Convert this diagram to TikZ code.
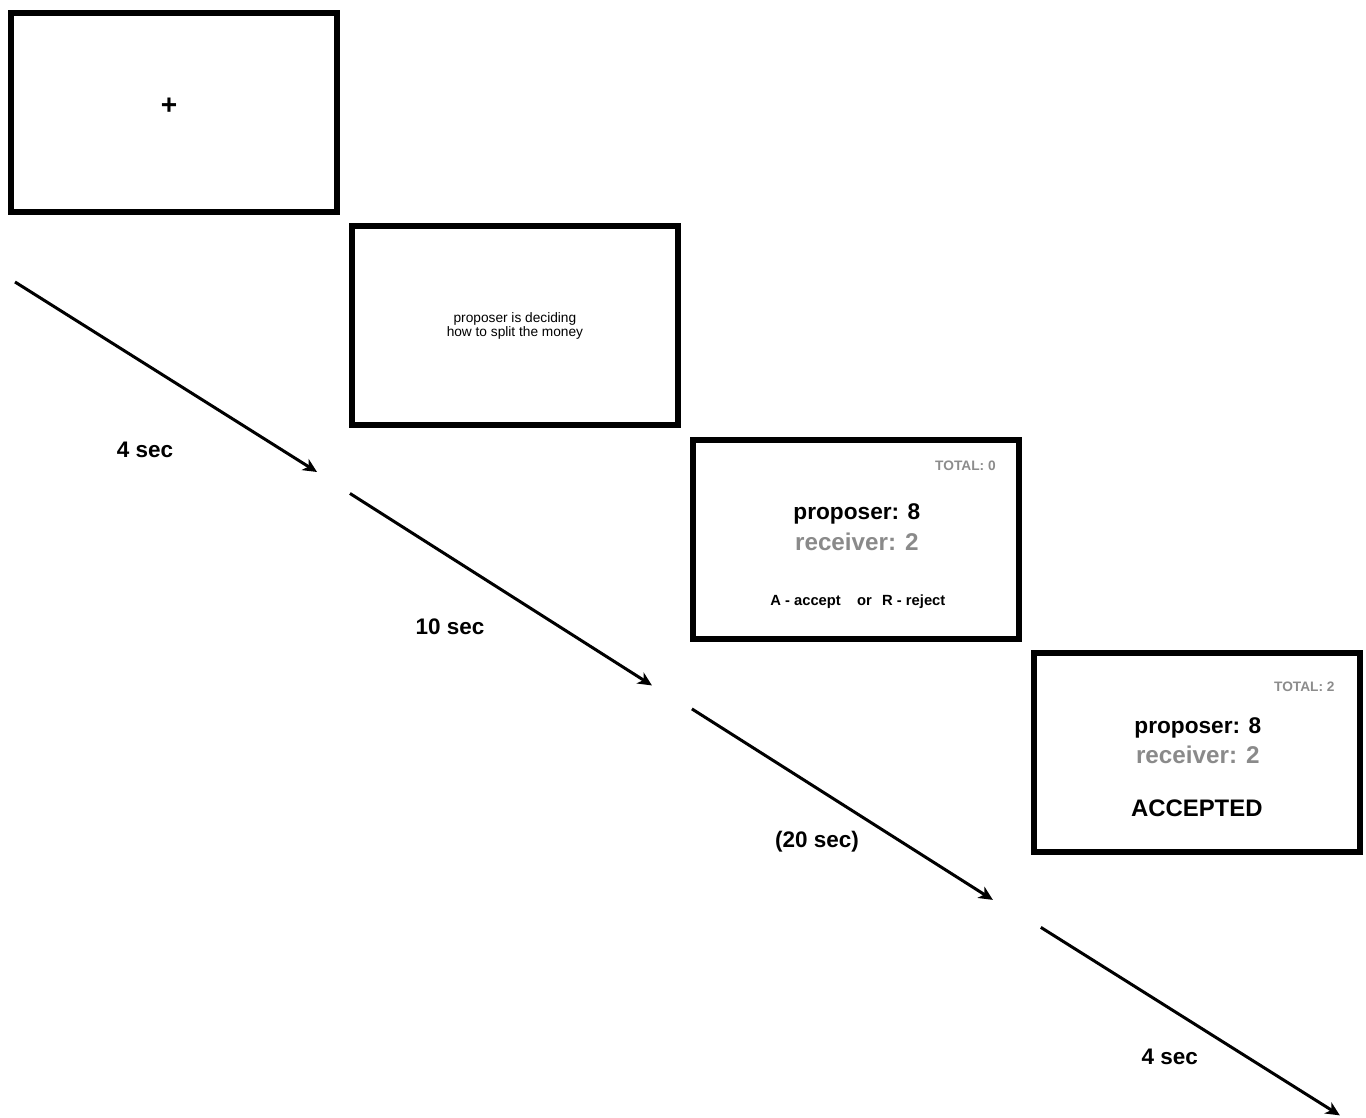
\documentclass[tikz,border=0pt]{standalone}
\usepackage{fontspec}
\setmainfont{Liberation Sans}
\usetikzlibrary{arrows.meta,positioning}
\definecolor{ink}{HTML}{000000}
\definecolor{dim}{HTML}{8A8A8A}
\definecolor{faint}{HTML}{8C8C8C}

\begin{document}
\begin{tikzpicture}[
  x=0.02cm, y=-0.02cm,
  node distance=0.17cm and 0.18cm,
  screen/.style={draw=ink, line width=0.12cm, minimum width=6.52cm, minimum height=3.98cm, inner sep=0pt, align=center},
  delay/.style={font=\fontsize{12.8}{15}\selectfont\bfseries},
  offer/.style={font=\fontsize{12.9}{15}\selectfont\bfseries},
  share/.style={font=\fontsize{13.8}{15}\selectfont\bfseries, text=dim},
  total/.style={font=\fontsize{7.8}{9}\selectfont\bfseries, text=faint, anchor=east},
  timearr/.style={-{Stealth[length=2.8mm, width=2.6mm, inset=0.8mm]}, line width=0.06cm}
]
\useasboundingbox (0,0) rectangle (1366,1117);

% screens
\node[screen] (fix) at (174,112.5) {};
\node[screen, below right=of fix.south east, anchor=north west, font=\fontsize{7.8}{8}\selectfont] (wait)
  {proposer is deciding\\how to split the money};
\node[screen, below right=of wait.south east, anchor=north west] (offer) {};
\node[screen, below right=of offer.south east, anchor=north west] (result) {};

% fixation cross
\node[font=\fontsize{16}{16}\selectfont\bfseries] (cross) at ([shift={(-5,-6)}]fix.center) {+};

% offer screen
\node[total] (total0) at ([shift={(-20,29)}]offer.north east) {TOTAL: 0};
\node[offer] (prop0) at ([shift={(1,-25)}]offer.center) {proposer: 8};
\node[share] (recv0) at ([shift={(1,2)}]offer.center) {receiver: 2};
\node[font=\fontsize{8.4}{10}\selectfont\bfseries] (choice) at ([shift={(2,62)}]offer.center)
  {A - accept\hspace{1.1em}or\hspace{0.7em}R - reject};

% result screen
\node[total] (total2) at ([shift={(-22,36)}]result.north east) {TOTAL: 2};
\node[offer] (prop2) at ([shift={(1,-25)}]result.center) {proposer: 8};
\node[share] (recv2) at ([shift={(1,2)}]result.center) {receiver: 2};
\node[font=\fontsize{13.6}{15}\selectfont\bfseries] (accepted) at ([shift={(0,55)}]result.center) {ACCEPTED};

% timeline arrows
\coordinate (s1) at ([shift={(7,67)}]fix.south west);
\coordinate (e1) at ([shift={(302,190)}]s1);
\coordinate (s2) at ([shift={(1,65)}]wait.south west);
\coordinate (e2) at ([shift={(302,192)}]s2);
\coordinate (s3) at ([shift={(2,67)}]offer.south west);
\coordinate (e3) at ([shift={(301,191)}]s3);
\coordinate (s4) at ([shift={(10,72)}]result.south west);
\coordinate (e4) at ([shift={(299,188)}]s4);

\draw[timearr] (s1) -- (e1);
\draw[timearr] (s2) -- (e2);
\draw[timearr] (s3) -- (e3);
\draw[timearr] (s4) -- (e4);

\node[delay] (d1) at ([shift={(130,168)}]s1) {4 sec};
\node[delay] (d2) at ([shift={(100,133)}]s2) {10 sec};
\node[delay] (d3) at ([shift={(125,133)}]s3) {(20 sec)};
\node[delay] (d4) at ([shift={(129,130)}]s4) {4 sec};
\end{tikzpicture}
\end{document}
